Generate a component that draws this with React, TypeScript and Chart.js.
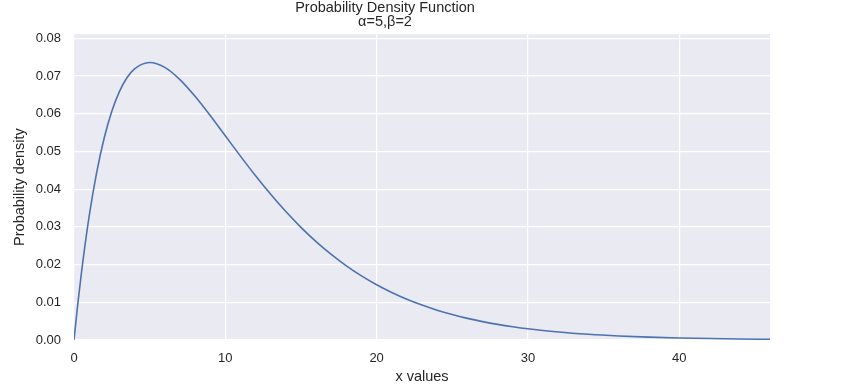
import React, { useEffect, useRef } from "react";
import { Chart, registerables } from "chart.js";

Chart.register(...registerables);

const titleLines = ["Probability Density Function", "α=5,β=2"];
const xLabel = "x values";
const yLabel = "Probability density";

const xValues = [
  0, 0.25, 0.5, 1, 1.5, 2, 2.5, 3, 3.5, 4, 5, 6, 7, 8, 9, 10, 11, 12, 13, 14, 15,
  16, 17, 18, 19, 20, 21, 22, 23, 24, 25, 26, 27, 28, 29, 30, 32, 34, 36, 38,
  40, 42, 44, 46,
];
const densityValues = [
  0, 0.00951, 0.0181, 0.03275, 0.04445, 0.05363, 0.06065, 0.06586, 0.06952,
  0.07189, 0.07358, 0.07229, 0.06905, 0.06461, 0.05951, 0.05413, 0.04875,
  0.04354, 0.03862, 0.03405, 0.02987, 0.02609, 0.02269, 0.01967, 0.017,
  0.01465, 0.0126, 0.01081, 0.00925, 0.0079, 0.00674, 0.00574, 0.00488,
  0.00414, 0.00351, 0.00297, 0.00213, 0.00152, 0.00108, 0.00076, 0.00054,
  0.00038, 0.00027, 0.00019,
];
const xTicks = [0, 10, 20, 30, 40];
const yTicks = [0, 0.01, 0.02, 0.03, 0.04, 0.05, 0.06, 0.07, 0.08];

const bgPlugin = {
  id: "plotBg",
  beforeDraw(chart: any) {
    const { ctx, chartArea } = chart;
    ctx.save();
    ctx.fillStyle = "#EAEAF2";
    ctx.fillRect(
      chartArea.left,
      chartArea.top,
      chartArea.right - chartArea.left,
      chartArea.bottom - chartArea.top
    );
    ctx.restore();
  },
};

export default function App() {
  const ref = useRef<HTMLCanvasElement | null>(null);
  useEffect(() => {
    if (!ref.current) return;
    const font = "'Liberation Sans', Arial, sans-serif";
    const chart = new Chart(ref.current, {
      type: "line",
      data: {
        datasets: [
          {
            data: xValues.map((x, i) => ({ x, y: densityValues[i] })),
            borderColor: "#4C72B0",
            borderWidth: 1.6,
            pointRadius: 0,
            cubicInterpolationMode: "monotone",
            fill: false,
          },
        ],
      },
      options: {
        animation: false,
        responsive: false,
        layout: { padding: { left: 0, right: 76, top: 0, bottom: 0 } },
        plugins: {
          legend: { display: false },
          tooltip: { enabled: false },
          title: {
            display: true,
            text: titleLines,
            color: "#262626",
            font: { family: font, size: 14.5, weight: "normal", lineHeight: 0.97 },
            padding: { top: 1, bottom: 5 },
          },
        },
        scales: {
          x: {
            type: "linear",
            min: 0,
            max: 46,
            afterBuildTicks: (s: any) => {
              s.ticks = xTicks.map((v) => ({ value: v }));
            },
            afterFit: (s: any) => {
              s.height = 52;
            },
            grid: { color: "#FFFFFF", lineWidth: 1.2, drawTicks: false },
            border: { display: false },
            ticks: {
              color: "#262626",
              font: { family: font, size: 13 },
              padding: 11,
              maxRotation: 0,
            },
            title: {
              display: true,
              text: xLabel,
              color: "#262626",
              font: { family: font, size: 14.5 },
              padding: { top: 2, bottom: 6 },
            },
          },
          y: {
            type: "linear",
            min: 0,
            max: 0.0811,
            afterBuildTicks: (s: any) => {
              s.ticks = yTicks.map((v) => ({ value: v }));
            },
            afterFit: (s: any) => {
              s.width = 74;
            },
            grid: { color: "#FFFFFF", lineWidth: 1.2, drawTicks: false },
            border: { display: false },
            ticks: {
              color: "#262626",
              font: { family: font, size: 13 },
              padding: 13,
              callback: (v: any) => Number(v).toFixed(2),
            },
            title: {
              display: true,
              text: yLabel,
              color: "#262626",
              font: { family: font, size: 14.5 },
              padding: { top: 11, bottom: 4 },
            },
          },
        },
      },
      plugins: [bgPlugin],
    } as any);
    return () => chart.destroy();
  }, []);
  return (
    <div style={{ position: "fixed", left: 0, top: 0, width: 846, height: 392, background: "#fff" }}>
      <canvas ref={ref} width={846} height={392} />
    </div>
  );
}
